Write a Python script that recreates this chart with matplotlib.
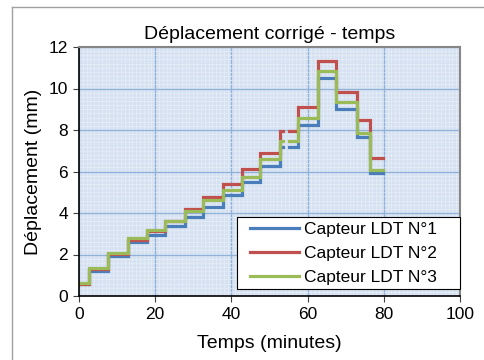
import numpy as np
import matplotlib
matplotlib.use("Agg")
import matplotlib.pyplot as plt
from matplotlib.lines import Line2D
from matplotlib.patches import Rectangle

plt.rcParams['font.family'] = ['Liberation Sans', 'DejaVu Sans']

# Step boundaries (minutes)
step_times = [0, 2.6, 7.7, 12.8, 17.8, 22.7, 27.7, 32.6, 37.7, 42.7, 47.6,
              52.8, 57.6, 62.7, 67.4, 73.0, 76.4, 79.9]
# Gap in acquisition (minutes)
gap_start, gap_end = 53.6, 55.2

ldt1 = [0.58, 1.22, 1.93, 2.60, 2.95, 3.38, 3.80, 4.28, 4.87, 5.48, 6.28,
        7.18, 8.25, 10.50, 9.00, 7.68, 5.91]
ldt2 = [0.60, 1.28, 2.02, 2.72, 3.12, 3.60, 4.18, 4.75, 5.40, 6.10, 6.90,
        7.96, 9.12, 11.32, 9.85, 8.48, 6.64]
ldt3 = [0.61, 1.35, 2.07, 2.80, 3.20, 3.60, 4.12, 4.62, 5.10, 5.72, 6.60,
        7.46, 8.56, 10.86, 9.33, 7.87, 6.07]

labels = ["Capteur LDT N°1", "Capteur LDT N°2", "Capteur LDT N°3"]
colors = ["#4a7ebb", "#c0504d", "#9bbb59"]
x_ticks = [0, 20, 40, 60, 80, 100]
y_ticks = [0, 2, 4, 6, 8, 10, 12]


def step_path(times, levels):
    xs, ys = [], []
    for i, lv in enumerate(levels):
        a, b = times[i], times[i + 1]
        if a < gap_start < b:
            xs += [a, gap_start, np.nan, gap_end, b]
            ys += [lv, lv, np.nan, lv, lv]
        else:
            xs += [a, b]
            ys += [lv, lv]
    return np.array(xs), np.array(ys)


fig = plt.figure(figsize=(4.84, 3.6), dpi=100)
ax = fig.add_axes([79 / 484, 1 - 296 / 360, (460 - 79) / 484, (296 - 47) / 360])

ax.set_facecolor("#d6e2f1")
ax.set_xlim(0, 100)
ax.set_ylim(0, 12)
ax.set_xticks(x_ticks)
ax.set_yticks(y_ticks)
ax.set_xticks(np.arange(0, 100.01, 1.0), minor=True)
ax.set_yticks(np.arange(0, 12.01, 0.2), minor=True)
ax.grid(which="minor", color="#f0f4fa", linewidth=0.6, linestyle=(0, (1, 1)))
ax.grid(which="major", color="#8fb1da", linewidth=0.9)
ax.set_axisbelow(True)
ax.tick_params(which="minor", length=0)
ax.tick_params(which="major", direction="out", length=4, labelsize=12.5,
               width=0.8, color="#404040", pad=4)

for data, lab, col in zip([ldt1, ldt2, ldt3], labels, colors):
    xs, ys = step_path(step_times, data)
    ax.plot(xs, ys, color=col, linewidth=2.3, label=lab, solid_joinstyle="miter")

for s in ["top", "right"]:
    ax.spines[s].set_color("#868686")
    ax.spines[s].set_linewidth(1.5)
for s in ["left", "bottom"]:
    ax.spines[s].set_color("black")
    ax.spines[s].set_linewidth(1.2)

ax.set_title("Déplacement corrigé - temps", fontsize=14, pad=6)
ax.set_xlabel("Temps (minutes)", fontsize=14, labelpad=9)
ax.set_ylabel("Déplacement (mm)", fontsize=14, labelpad=5)

# legend box
ax.add_patch(Rectangle((0.4147, 0.027), 0.5853, 0.289, transform=ax.transAxes,
                       facecolor="white", edgecolor="black", linewidth=0.8,
                       zorder=4, clip_on=False))
leg = ax.legend(loc="upper left", bbox_to_anchor=(0.4488, 0.298), fontsize=12.5,
                frameon=False, handlelength=2.85, labelspacing=0.52,
                borderpad=0, handletextpad=0.25, borderaxespad=0)
leg.set_zorder(5)

# outer chart-area frame
fig.add_artist(Line2D([12 / 484, 12 / 484], [0, 1 - 7 / 360],
                      transform=fig.transFigure, color="#a0a0a0", linewidth=1))
fig.add_artist(Line2D([12 / 484, 1], [1 - 7 / 360, 1 - 7 / 360],
                      transform=fig.transFigure, color="#a0a0a0", linewidth=1))

fig.savefig("out.png", dpi=100)
